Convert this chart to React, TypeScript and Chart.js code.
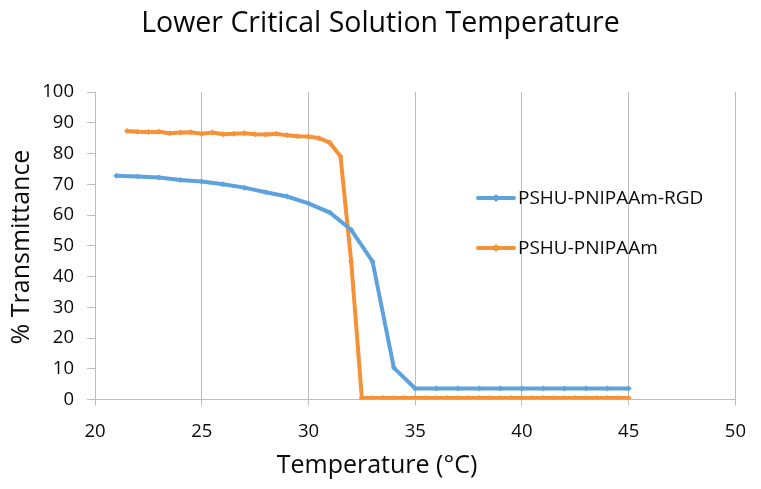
import React, { useEffect, useRef } from "react";
import { Chart, registerables } from "chart.js";

Chart.register(...registerables);

const TITLE = "Lower Critical Solution Temperature";
const X_TITLE = "Temperature (°C)";
const Y_TITLE = "% Transmittance";

const RGD_LABEL = "PSHU-PNIPAAm-RGD";
const RGD_TEMP = [21, 22, 23, 24, 25, 26, 27, 28, 29, 30, 31, 32, 33, 34, 35, 36, 37, 38, 39, 40, 41, 42, 43, 44, 45];
const RGD_T = [72.8, 72.5, 72.2, 71.4, 70.9, 70.0, 68.9, 67.4, 66.0, 63.8, 60.8, 55.2, 44.9, 10.3, 3.6, 3.6, 3.6, 3.6, 3.6, 3.6, 3.6, 3.6, 3.6, 3.6, 3.6];

const PN_LABEL = "PSHU-PNIPAAm";
const PN_TEMP = [21.5, 22, 22.5, 23, 23.5, 24, 24.5, 25, 25.5, 26, 26.5, 27, 27.5, 28, 28.5, 29, 29.5, 30, 30.5, 31, 31.5, 32, 32.5, 33, 33.5, 34, 34.5, 35, 35.5, 36, 36.5, 37, 37.5, 38, 38.5, 39, 39.5, 40, 40.5, 41, 41.5, 42, 42.5, 43, 43.5, 44, 44.5, 45];
const PN_T = [87.3, 87.1, 87.0, 87.1, 86.6, 86.8, 86.9, 86.4, 86.8, 86.3, 86.4, 86.6, 86.3, 86.2, 86.4, 85.9, 85.6, 85.5, 85.0, 83.5, 79.1, 44.9, 0.5, 0.5, 0.5, 0.5, 0.5, 0.5, 0.5, 0.5, 0.5, 0.5, 0.5, 0.5, 0.5, 0.5, 0.5, 0.5, 0.5, 0.5, 0.5, 0.5, 0.5, 0.5, 0.5, 0.5, 0.5, 0.5];

const X_MIN = 20;
const X_MAX = 50;
const X_STEP = 5;
const Y_MIN = 0;
const Y_MAX = 100;
const Y_STEP = 10;

const BLUE = "#5DA2DD";
const ORANGE = "#F59137";
const FONT = "'Open Sans', 'DejaVu Sans', sans-serif";

const overlayPlugin = {
  id: "overlay",
  afterDraw(chart: any) {
    const ctx = chart.ctx;
    const ds = chart.data.datasets;
    ctx.save();
    // axis titles
    ctx.fillStyle = "#0a0a0a";
    ctx.font = `25px ${FONT}`;
    ctx.textAlign = "center";
    ctx.textBaseline = "middle";
    ctx.fillText(X_TITLE, 377, 466);
    ctx.save();
    ctx.translate(22, 247);
    ctx.rotate(-Math.PI / 2);
    ctx.fillText(Y_TITLE, 0, 0);
    ctx.restore();
    // legend
    const ys = [198, 248];
    ds.forEach((d: any, i: number) => {
      const y = ys[i];
      ctx.strokeStyle = d.borderColor;
      ctx.lineWidth = 4;
      ctx.lineCap = "round";
      ctx.beginPath();
      ctx.moveTo(478, y);
      ctx.lineTo(514, y);
      ctx.stroke();
      ctx.fillStyle = d.borderColor;
      ctx.beginPath();
      ctx.moveTo(496, y - 4);
      ctx.lineTo(500, y);
      ctx.lineTo(496, y + 4);
      ctx.lineTo(492, y);
      ctx.closePath();
      ctx.fill();
      ctx.fillStyle = "#0a0a0a";
      ctx.font = `19px ${FONT}`;
      ctx.textAlign = "left";
      ctx.textBaseline = "middle";
      ctx.fillText(d.label, 518, y + 1);
    });
    ctx.restore();
  },
};

export default function App() {
  const ref = useRef<HTMLCanvasElement | null>(null);

  useEffect(() => {
    document.body.style.margin = "0";
    const canvas = ref.current;
    if (!canvas) return;
    const chart = new Chart(canvas, {
      type: "line",
      data: {
        datasets: [
          {
            label: RGD_LABEL,
            data: RGD_TEMP.map((x, i) => ({ x, y: RGD_T[i] })),
            borderColor: BLUE,
            backgroundColor: BLUE,
            borderWidth: 4,
            pointStyle: "rectRot",
            pointRadius: 3,
            pointBorderWidth: 0,
            tension: 0,
          },
          {
            label: PN_LABEL,
            data: PN_TEMP.map((x, i) => ({ x, y: PN_T[i] })),
            borderColor: ORANGE,
            backgroundColor: ORANGE,
            borderWidth: 4,
            pointStyle: "rectRot",
            pointRadius: 3,
            pointBorderWidth: 0,
            tension: 0,
          },
        ],
      },
      options: {
        responsive: false,
        animation: false,
        devicePixelRatio: 1,
        layout: { padding: 0 },
        plugins: {
          legend: { display: false },
          tooltip: { enabled: false },
          title: {
            display: true,
            text: TITLE,
            color: "#0a0a0a",
            font: { family: FONT, size: 28.5, weight: "normal", lineHeight: 1.2 },
            padding: { top: 7, bottom: 50.8 },
          },
        },
        scales: {
          x: {
            type: "linear",
            min: X_MIN,
            max: X_MAX,
            afterFit(s: any) {
              s.height = 89.5;
            },
            ticks: {
              stepSize: X_STEP,
              color: "#0a0a0a",
              font: { family: FONT, size: 18.5 },
              padding: 15,
            },
            grid: {
              color: "#BDBDBD",
              lineWidth: 1,
              tickLength: 6,
              drawTicks: true,
            },
            border: { display: true, color: "#BDBDBD" },
          },
          y: {
            type: "linear",
            min: Y_MIN,
            max: Y_MAX,
            afterFit(s: any) {
              s.width = 95;
            },
            ticks: {
              stepSize: Y_STEP,
              color: "#0a0a0a",
              font: { family: FONT, size: 18.5 },
              padding: 13,
            },
            grid: {
              drawOnChartArea: false,
              drawTicks: true,
              tickLength: 8,
              color: "#BDBDBD",
            },
            border: { display: true, color: "#BDBDBD" },
          },
        },
      },
      plugins: [overlayPlugin],
    });
    return () => chart.destroy();
  }, []);

  return (
    <div style={{ position: "absolute", left: 0, top: 0, width: 761, height: 489, background: "#fff" }}>
      <canvas ref={ref} width={761} height={489} style={{ width: 761, height: 489, display: "block" }} />
    </div>
  );
}
